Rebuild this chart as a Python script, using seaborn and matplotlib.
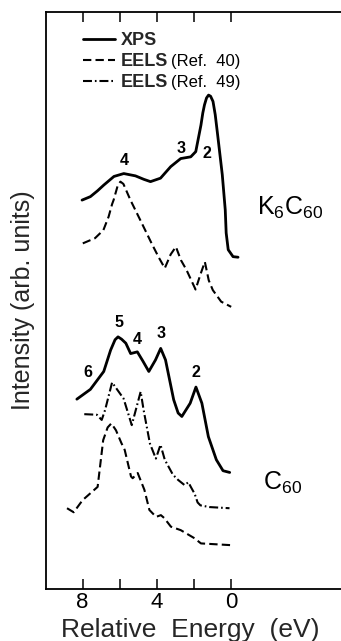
import numpy as np
import pandas as pd
import matplotlib
matplotlib.use("Agg")
import matplotlib.pyplot as plt
from matplotlib.lines import Line2D
from matplotlib.transforms import IdentityTransform
import seaborn as sns

# ---------------- data ----------------
k6_xps_E = [8.03, 7.58, 7.20, 6.86, 6.31, 5.78, 5.15, 4.70, 4.34, 3.80, 3.25, 2.71,
            2.17, 1.90, 1.62, 1.52, 1.43, 1.32, 1.21, 1.10, 0.97, 0.85, 0.72, 0.47,
            0.31, 0.26, 0.15, -0.11, -0.38]
k6_xps_I = [67.4, 68.0, 69.0, 70.0, 71.5, 72.0, 71.6, 71.0, 70.6, 71.2, 73.2, 74.6,
            74.9, 75.8, 80.4, 82.5, 83.9, 85.1, 85.6, 85.4, 84.5, 82.2, 78.7, 71.8,
            65.7, 61.7, 58.8, 57.6, 57.5]

k6_eels40_E = [7.99, 7.33, 6.88, 6.60, 6.41, 6.33, 6.10, 5.96, 5.80, 5.42, 5.16, 4.90,
               4.28, 3.90, 3.57, 3.25, 2.97, 2.70, 2.40, 1.91, 1.65, 1.41, 1.20, 0.98,
               0.53, -0.01]
k6_eels40_I = [59.9, 60.8, 62.2, 64.5, 66.7, 67.4, 70.0, 70.6, 70.2, 67.4, 65.7, 64.0,
               59.9, 57.5, 55.6, 58.0, 59.3, 57.0, 55.3, 51.9, 54.5, 56.7, 53.5, 51.8,
               49.8, 48.9]

c60_xps_E = [8.31, 7.58, 6.86, 6.49, 6.25, 6.09, 5.90, 5.67, 5.41, 5.05, 4.75, 4.43,
             4.07, 3.79, 3.53, 3.09, 2.85, 2.65, 2.20, 1.89, 1.57, 1.22, 0.79, 0.43,
             0.07]
c60_xps_I = [32.9, 34.6, 37.7, 41.4, 43.2, 43.7, 43.3, 42.6, 40.8, 41.1, 39.5, 37.7,
             39.7, 41.7, 39.7, 32.8, 30.5, 29.9, 32.2, 35.0, 32.2, 26.4, 22.4, 20.5,
             20.2]

c60_eels49_E = [7.91, 7.23, 6.97, 6.79, 6.41, 5.79, 5.35, 4.87, 4.71, 4.37, 4.05, 3.80,
                3.57, 3.13, 2.85, 2.50, 2.30, 2.15, 1.96, 1.80, 1.65, 1.16, 0.08]
c60_eels49_I = [30.3, 30.2, 29.3, 31.0, 35.8, 33.0, 28.4, 34.2, 31.0, 25.2, 22.6, 25.0,
                22.4, 19.8, 18.9, 18.0, 18.5, 17.6, 16.5, 15.0, 14.5, 14.2, 14.0]

c60_eels40_E = [8.84, 8.48, 8.00, 7.19, 6.89, 6.65, 6.45, 6.20, 5.91, 5.73, 5.39, 5.30,
                5.03, 4.67, 4.40, 4.04, 3.78, 3.60, 3.24, 2.71, 1.97, 1.62, 0.01]
c60_eels40_I = [14.0, 13.3, 15.4, 17.7, 25.8, 28.0, 28.7, 27.5, 25.3, 24.1, 19.5, 19.2,
                20.1, 17.2, 13.7, 12.5, 12.8, 12.3, 10.8, 10.2, 8.8, 7.9, 7.6]

peak_text = ["4", "3", "2", "6", "5", "4", "3", "2"]
peak_E = [5.77, 2.71, 1.31, 7.72, 6.02, 5.07, 3.77, 1.91]
peak_I = [74.2, 76.4, 75.5, 37.5, 46.2, 43.3, 44.2, 37.5]

compound_text = [r"$\mathregular{K_6C_{60}}$", r"$\mathregular{C_{60}}$"]
compound_E = [-1.42, -1.71]
compound_I = [64.8, 17.2]

major_ticks = [8, 4, 0]
minor_ticks = [6, 2]
tick_labels = ["8", "4", "0"]

legend_main = ["XPS", "EELS", "EELS"]
legend_ref = [None, "(Ref.  40)", "(Ref.  49)"]

# ---------------- style ----------------
sns.set_style("white")
plt.rcParams["font.family"] = ["Liberation Sans", "DejaVu Sans"]
plt.rcParams["mathtext.default"] = "regular"

fig = plt.figure(figsize=(3.41, 6.41), dpi=100)
ax = fig.add_axes([45.5 / 341, 1 - 589 / 641, (341 - 45.5) / 341, 577 / 641])

SOLID = "-"
DASH = (0, (4.0, 2.0))
DASHDOT = (0, (4.3, 1.4, 0.8, 1.4))

series = [
    (k6_xps_E, k6_xps_I, SOLID, 2.0),
    (k6_eels40_E, k6_eels40_I, DASH, 1.5),
    (c60_xps_E, c60_xps_I, SOLID, 2.0),
    (c60_eels49_E, c60_eels49_I, DASHDOT, 1.5),
    (c60_eels40_E, c60_eels40_I, DASH, 1.5),
]
for E, I, ls, lw in series:
    df = pd.DataFrame({"energy": E, "intensity": I})
    sns.lineplot(data=df, x="energy", y="intensity", ax=ax, color="black",
                 linewidth=lw, linestyle=ls, sort=False, estimator=None,
                 legend=False)

for t, e, i in zip(peak_text, peak_E, peak_I):
    ax.text(e, i, t, ha="center", va="center", fontsize=11.5,
            fontweight="bold", color="black")

for t, e, i in zip(compound_text, compound_E, compound_I):
    ax.text(e, i, t, ha="left", va="baseline", fontsize=18, color="black")

ax.set_xlim(10, 10 - 295.5 / 18.55)
ax.set_ylim(0, 100)
ax.set_yticks([])
ax.set_xticks(major_ticks)
ax.set_xticklabels(tick_labels)
ax.set_xticks(minor_ticks, minor=True)
ax.tick_params(axis="x", which="both", direction="in", top=True, bottom=True,
               length=7.2, width=1.1, labelsize=16, pad=2.0, colors="black")
for s in ["left", "bottom", "top"]:
    ax.spines[s].set_visible(True)
    ax.spines[s].set_linewidth(1.3)
    ax.spines[s].set_color("black")
ax.spines["right"].set_visible(False)

ax.set_xlabel("Relative  Energy  (eV)", fontsize=19)
ax.xaxis.set_label_coords(0.489, -0.050)
ax.set_ylabel("Intensity (arb. units)", fontsize=18)
ax.yaxis.set_label_coords(-0.036, 0.5)

handles = [Line2D([], [], color="black", lw=2.0, linestyle=SOLID),
           Line2D([], [], color="black", lw=1.5, linestyle=DASH),
           Line2D([], [], color="black", lw=1.5, linestyle=DASHDOT)]
LEG_FS = 13
leg = ax.legend(handles, legend_main, loc="upper left",
                bbox_to_anchor=(0.127, 0.965), frameon=False,
                prop={"size": LEG_FS, "weight": "bold"},
                handlelength=1.75, handletextpad=0.33, labelspacing=0.22,
                borderpad=0, borderaxespad=0)

fig.canvas.draw()
for txt, ref in zip(leg.get_texts(), legend_ref):
    if ref:
        bb = txt.get_window_extent()
        base = bb.y0 + 0.21 * LEG_FS * 100 / 72
        fig.text(bb.x1 + 3, base, ref, transform=IdentityTransform(),
                 ha="left", va="baseline", fontsize=12, color="black")

fig.savefig("out.png", dpi=100)
